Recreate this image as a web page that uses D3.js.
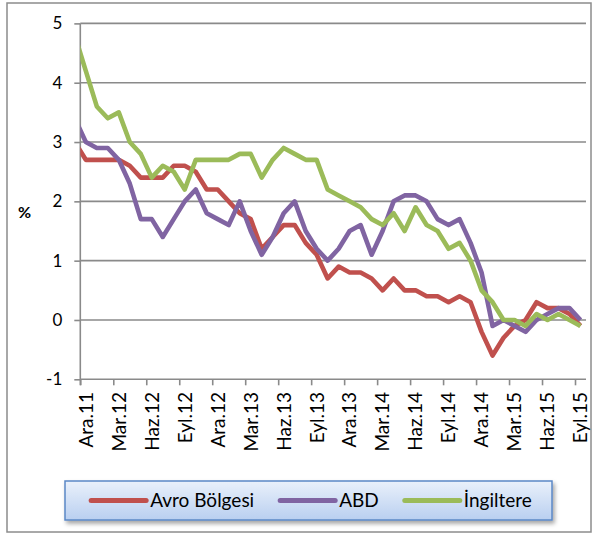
<!DOCTYPE html>
<html>
<head>
<meta charset="utf-8">
<script src="https://cdn.jsdelivr.net/npm/d3@7"></script>
<style>
  body { margin: 0; background: #fff; }
  text { font-family: Lato, "Open Sans", sans-serif; fill: #000; }
</style>
</head>
<body>
<div id="chart"></div>
<script>
const width = 593,
  height = 535;

// monthly yoy inflation, Kas.11 .. Eyl.15 (first month sits left of the axis and is clipped)
const avro = [3.0, 2.7, 2.7, 2.7, 2.7, 2.6, 2.4, 2.4, 2.4, 2.6, 2.6, 2.5, 2.2, 2.2,
  2.0, 1.8, 1.7, 1.2, 1.4, 1.6, 1.6, 1.3, 1.1, 0.7, 0.9, 0.8,
  0.8, 0.7, 0.5, 0.7, 0.5, 0.5, 0.4, 0.4, 0.3, 0.4, 0.3, -0.2,
  -0.6, -0.3, -0.1, 0.0, 0.3, 0.2, 0.2, 0.1, -0.1];
const abd = [3.4, 3.0, 2.9, 2.9, 2.7, 2.3, 1.7, 1.7, 1.4, 1.7, 2.0, 2.2, 1.8, 1.7,
  1.6, 2.0, 1.5, 1.1, 1.4, 1.8, 2.0, 1.5, 1.2, 1.0, 1.2, 1.5,
  1.6, 1.1, 1.5, 2.0, 2.1, 2.1, 2.0, 1.7, 1.6, 1.7, 1.3, 0.8,
  -0.1, 0.0, -0.1, -0.2, 0.0, 0.1, 0.2, 0.2, 0.0];
const ingiltere = [4.8, 4.2, 3.6, 3.4, 3.5, 3.0, 2.8, 2.4, 2.6, 2.5, 2.2, 2.7, 2.7, 2.7,
  2.7, 2.8, 2.8, 2.4, 2.7, 2.9, 2.8, 2.7, 2.7, 2.2, 2.1, 2.0,
  1.9, 1.7, 1.6, 1.8, 1.5, 1.9, 1.6, 1.5, 1.2, 1.3, 1.0, 0.5,
  0.3, 0.0, 0.0, -0.1, 0.1, 0.0, 0.1, 0.0, -0.1];

const tickLabels = ["Ara.11", "Mar.12", "Haz.12", "Eyl.12", "Ara.12", "Mar.13", "Haz.13", "Eyl.13",
  "Ara.13", "Mar.14", "Haz.14", "Eyl.14", "Ara.14", "Mar.15", "Haz.15", "Eyl.15"];
const seriesNames = ["Avro Bölgesi", "ABD", "İngiltere"];
const seriesColors = ["#c0504d", "#8064a2", "#9bbb59"];
const nCategories = 46; // Ara.11 .. Eyl.15

const svg = d3.select("#chart")
  .append("svg")
  .attr("width", width)
  .attr("height", height);

// outer frame
svg.append("rect")
  .attr("x", 7).attr("y", 3)
  .attr("width", 584).attr("height", 529)
  .attr("fill", "#fff")
  .attr("stroke", "#8c8c8c")
  .attr("stroke-width", 1.5);

const plot = { left: 80.3, right: 586, top: 23.4, bottom: 379.3 };

const x = d3.scaleLinear().domain([0, nCategories]).range([plot.left, plot.right]);
const y = d3.scaleLinear().domain([-1, 5]).range([plot.bottom, plot.top]);

// gridlines
svg.append("g")
  .selectAll("line")
  .data(d3.range(0, 6))
  .join("line")
  .attr("x1", plot.left).attr("x2", plot.right)
  .attr("y1", d => y(d)).attr("y2", d => y(d))
  .attr("stroke", "#8a8a8a")
  .attr("stroke-width", 1.6);

// y axis
const yAxis = svg.append("g")
  .attr("transform", `translate(${plot.left},0)`)
  .call(d3.axisLeft(y).tickValues(d3.range(-1, 6)).tickSize(6).tickPadding(12).tickFormat(d3.format("d")));
yAxis.select(".domain").remove();
yAxis.selectAll(".tick line").attr("stroke", "#8a8a8a").attr("stroke-width", 1.6);
yAxis.selectAll(".tick text")
  .style("font-size", "17px")
  .style("font-family", "Lato, sans-serif")
  .attr("fill", "#000")
  .text(d => d < 0 ? "-" + Math.abs(d) : d);

svg.append("line")
  .attr("x1", plot.left).attr("x2", plot.left)
  .attr("y1", plot.top).attr("y2", plot.bottom + 6)
  .attr("stroke", "#8a8a8a")
  .attr("stroke-width", 1.6);

// x axis: ticks on category boundaries, labels on category centers
const xAxis = svg.append("g")
  .attr("transform", `translate(0,${plot.bottom})`)
  .call(d3.axisBottom(x).tickValues(d3.range(0, nCategories, 3)).tickSize(6).tickFormat(""));
xAxis.select(".domain").attr("stroke", "#8a8a8a").attr("stroke-width", 1.6).attr("d", `M${plot.left},0H${plot.right}`);
xAxis.selectAll(".tick line").attr("stroke", "#8a8a8a").attr("stroke-width", 1.6);

svg.append("g")
  .selectAll("text")
  .data(tickLabels)
  .join("text")
  .attr("transform", (d, i) => `translate(${x(i * 3 + 0.5)},392) rotate(-90)`)
  .attr("text-anchor", "end")
  .attr("dy", "0.36em")
  .style("font-size", "19px")
  .text(d => d);

// % label
svg.append("text")
  .attr("x", 24.5).attr("y", 212)
  .attr("text-anchor", "middle")
  .attr("dy", "0.35em")
  .style("font-size", "16px")
  .style("font-weight", "bold")
  .text("%");

// lines
svg.append("clipPath")
  .attr("id", "plotclip")
  .append("rect")
  .attr("x", plot.left).attr("y", 0)
  .attr("width", plot.right - plot.left).attr("height", height);

const line = d3.line()
  .x((d, i) => x(i - 1 + 0.5)) // index 0 is Kas.11, one category before the axis
  .y(d => y(d));

svg.append("g")
  .attr("clip-path", "url(#plotclip)")
  .selectAll("path")
  .data([avro, abd, ingiltere])
  .join("path")
  .attr("fill", "none")
  .attr("stroke", (d, i) => seriesColors[i])
  .attr("stroke-width", 4.6)
  .attr("stroke-linejoin", "round")
  .attr("d", line);

// legend
const defs = svg.append("defs");
const grad = defs.append("linearGradient")
  .attr("id", "legendfill")
  .attr("x1", 0).attr("y1", 0).attr("x2", 0).attr("y2", 1);
grad.append("stop").attr("offset", "0%").attr("stop-color", "#eaf1fb");
grad.append("stop").attr("offset", "100%").attr("stop-color", "#b9cff0");
defs.append("filter")
  .attr("id", "shadow")
  .attr("x", "-5%").attr("y", "-20%").attr("width", "115%").attr("height", "160%")
  .append("feDropShadow")
  .attr("dx", 2).attr("dy", 3).attr("stdDeviation", 2)
  .attr("flood-color", "#000").attr("flood-opacity", 0.35);

const legendBox = { x: 65, y: 481, w: 487, h: 39 };
svg.append("rect")
  .attr("x", legendBox.x).attr("y", legendBox.y)
  .attr("width", legendBox.w).attr("height", legendBox.h)
  .attr("fill", "url(#legendfill)")
  .attr("stroke", "#5b88c6")
  .attr("stroke-width", 1.5)
  .attr("filter", "url(#shadow)");

const legend = svg.append("g");
const items = legend.selectAll("g")
  .data(seriesNames)
  .join("g");
items.append("line")
  .attr("x1", 0).attr("x2", 55)
  .attr("stroke", (d, i) => seriesColors[i])
  .attr("stroke-width", 5)
  .attr("stroke-linecap", "round");
items.append("text")
  .attr("x", 59)
  .attr("dy", "0.35em")
  .style("font-size", "19px")
  .text(d => d);

// place items one after another, centred in the box
let pos = 0;
const offsets = [];
items.each(function () {
  offsets.push(pos);
  pos += this.getBBox().width + 26;
});
const total = pos - 26;
const start = legendBox.x + (legendBox.w - total) / 2 + 3;
items.attr("transform", (d, i) => `translate(${start + offsets[i]},${legendBox.y + legendBox.h / 2})`);
</script>
</body>
</html>
